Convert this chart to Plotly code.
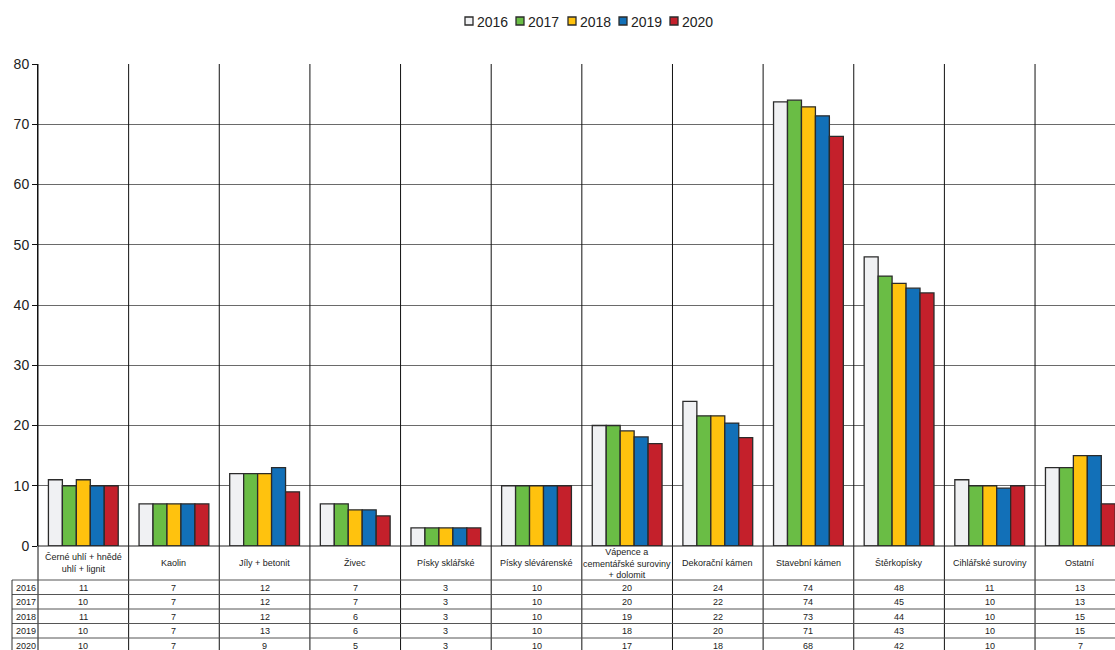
import plotly.graph_objects as go

categories = ["Černé uhlí + hnědé<br>uhlí + lignit", "Kaolin", "Jíly + betonit", "Živec",
              "Písky sklářské", "Písky slévárenské", "Vápence a<br>cementářské suroviny<br>+ dolomit",
              "Dekorační kámen", "Stavební kámen", "Štěrkopísky", "Cihlářské suroviny", "Ostatní"]
years = ["2016", "2017", "2018", "2019", "2020"]

v2016 = [11, 7, 12, 7, 3, 10, 20.0, 24.0, 73.7, 48.0, 11, 13]
v2017 = [10, 7, 12, 7, 3, 10, 20.0, 21.6, 74.0, 44.8, 10, 13]
v2018 = [11, 7, 12, 6, 3, 10, 19.1, 21.6, 72.9, 43.6, 10, 15]
v2019 = [10, 7, 13, 6, 3, 10, 18.1, 20.4, 71.4, 42.8, 9.6, 15]
v2020 = [10, 7, 9, 5, 3, 10, 17.0, 18.0, 68.0, 42.0, 10, 7]

t2016 = [11, 7, 12, 7, 3, 10, 20, 24, 74, 48, 11, 13]
t2017 = [10, 7, 12, 7, 3, 10, 20, 22, 74, 45, 10, 13]
t2018 = [11, 7, 12, 6, 3, 10, 19, 22, 73, 44, 10, 15]
t2019 = [10, 7, 13, 6, 3, 10, 18, 20, 71, 43, 10, 15]
t2020 = [10, 7, 9, 5, 3, 10, 17, 18, 68, 42, 10, 7]

y_ticks = [0, 10, 20, 30, 40, 50, 60, 70, 80]

series = [v2016, v2017, v2018, v2019, v2020]
table = [t2016, t2017, t2018, t2019, t2020]
colors = ["#f0f1f3", "#6abd45", "#ffc20e", "#1270b8", "#c4202b"]

FONT = "Liberation Sans, Arial, sans-serif"
W, H = 1115, 650
L, T, B = 38, 64, 546
PW, PH = W - L, B - T
R0, R1 = -0.5, -0.5 + PW / 90.64

def xp(px):
    return (px - L) / PW

def yp(py):
    return (B - py) / PH

def xd(v):
    return (v - R0) / (R1 - R0)

xs = list(range(len(categories)))
fig = go.Figure()
for yr, vals, col in zip(years, series, colors):
    fig.add_trace(go.Bar(x=xs, y=vals, name=yr, marker=dict(color=col, line=dict(color="#2b2b2b", width=1.3)),
                         showlegend=False))

shapes = []
annotations = []
# vertical category boundaries
for k in range(len(categories) + 1):
    f = xd(k - 0.5)
    if f <= 1.0001:
        shapes.append(dict(type="line", xref="paper", yref="paper", x0=f, x1=f, y0=yp(655), y1=1,
                           line=dict(color="#111", width=1), layer="above"))
# horizontal table lines
shapes.append(dict(type="line", xref="paper", yref="paper", x0=0, x1=1, y0=yp(546), y1=yp(546),
                   line=dict(color="#222", width=1)))
row_lines = [580, 594.5, 609, 623.5, 638]
for py in row_lines:
    shapes.append(dict(type="line", xref="paper", yref="paper", x0=xp(12), x1=1, y0=yp(py), y1=yp(py),
                       line=dict(color="#555", width=1)))
shapes.append(dict(type="line", xref="paper", yref="paper", x0=xp(12), x1=xp(12), y0=yp(580), y1=yp(655),
                   line=dict(color="#333", width=1)))

# category labels
for i, c in enumerate(categories):
    annotations.append(dict(x=xd(i), y=yp(563), xref="paper", yref="paper", text=c, showarrow=False,
                            font=dict(family=FONT, size=9, color="#222"), xanchor="center", yanchor="middle"))
# table values
row_centers = [587.5, 602, 616.5, 631, 645.5]
for yr, tv, cy in zip(years, table, row_centers):
    annotations.append(dict(x=xp(14), y=yp(cy), xref="paper", yref="paper", text=yr, showarrow=False,
                            font=dict(family=FONT, size=9, color="#222"), xanchor="left", yanchor="middle"))
    for i, v in enumerate(tv):
        annotations.append(dict(x=xd(i), y=yp(cy), xref="paper", yref="paper", text=str(v), showarrow=False,
                                font=dict(family=FONT, size=9, color="#222"), xanchor="center", yanchor="middle"))

# custom legend
leg_x = [465, 516, 568, 619, 670]
for yr, col, lx in zip(years, colors, leg_x):
    shapes.append(dict(type="rect", xref="paper", yref="paper", x0=xp(lx), x1=xp(lx + 8),
                       y0=yp(25), y1=yp(17), fillcolor=col, line=dict(color="#2b2b2b", width=1.3)))
    annotations.append(dict(x=xp(lx + 9.5), y=yp(21.5), xref="paper", yref="paper", text=yr, showarrow=False,
                            font=dict(family=FONT, size=14, color="#222"), xanchor="left", yanchor="middle"))

fig.update_layout(
    width=W, height=H,
    margin=dict(l=L, r=0, t=T, b=H - B, pad=0),
    paper_bgcolor="white", plot_bgcolor="white",
    barmode="group", bargap=0.23, bargroupgap=0,
    font=dict(family=FONT, size=14, color="#222"),
    xaxis=dict(range=[R0, R1], showticklabels=False, showgrid=False, zeroline=False, showline=False,
               fixedrange=True),
    yaxis=dict(range=[0, 80], tickvals=y_ticks, showgrid=True, gridcolor="#6a6a6a", gridwidth=1.2,
               zeroline=False, showline=True, linecolor="#111", linewidth=1, ticks="outside",
               ticklen=5, tickcolor="#111", tickfont=dict(family=FONT, size=14, color="#222"),
               fixedrange=True),
    shapes=shapes, annotations=annotations,
)

fig.write_html("out.html")
